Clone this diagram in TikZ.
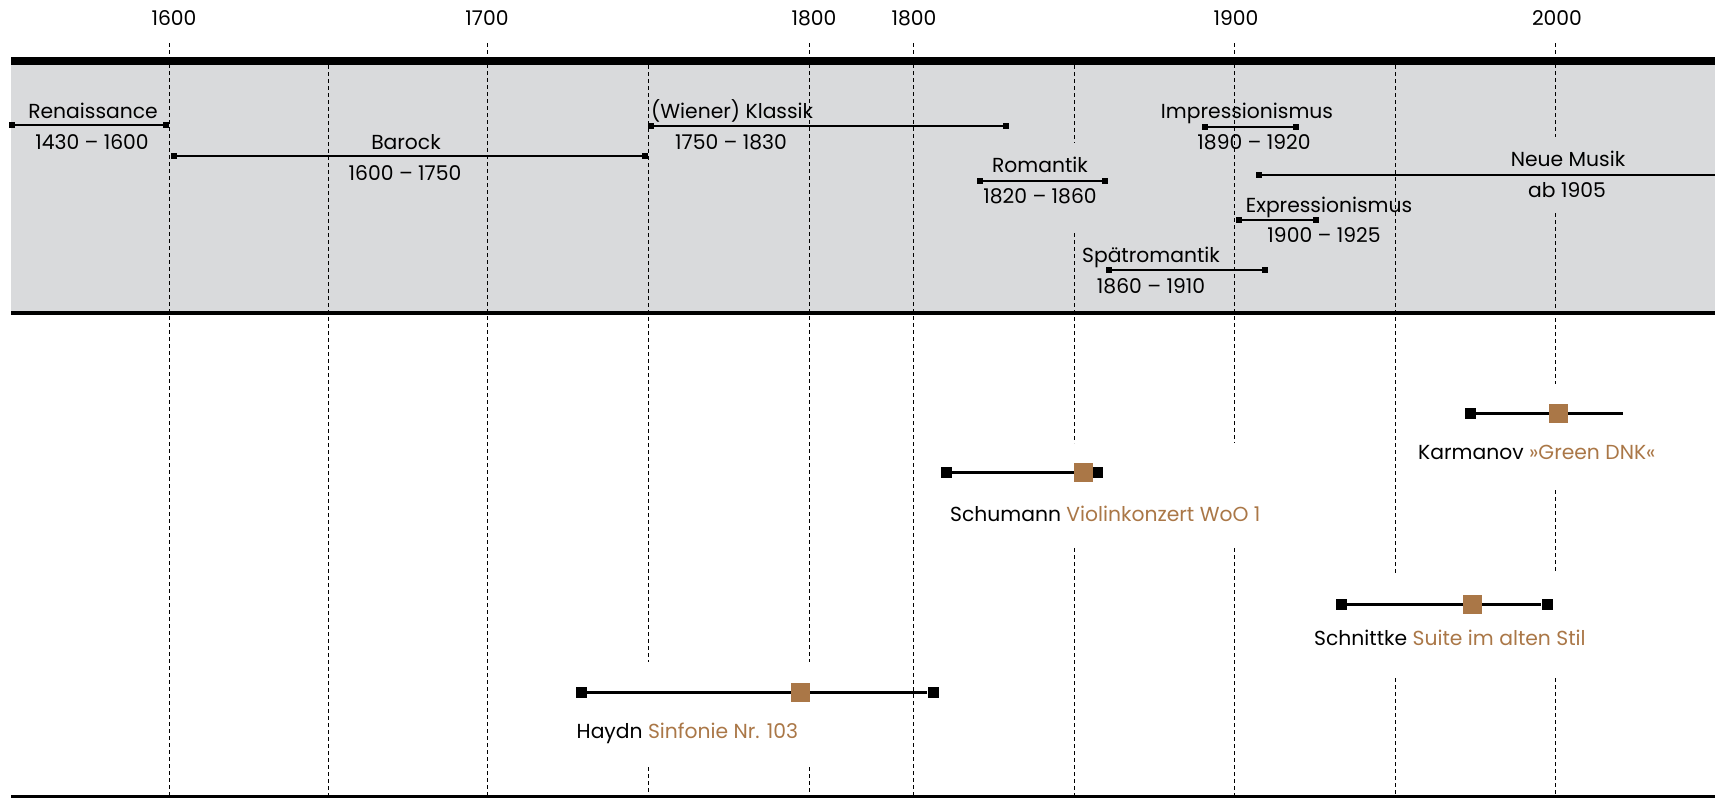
\documentclass[tikz,border=0pt]{standalone}
\usepackage{fontspec}
\setmainfont{Poppins}
\definecolor{workbrown}{HTML}{AA7747}
\definecolor{bandgrey}{HTML}{D9DADC}
\begin{document}
\begin{tikzpicture}[x=1pt,y=-1pt,
  txt/.style={font=\fontsize{20.3}{24}\selectfont, inner sep=0pt, anchor=base},
  gridline/.style={line width=1.2pt, dash pattern=on 4pt off 3pt},
  period/.style={line width=1.5pt},
  pend/.style={rectangle, fill=black, minimum size=6pt, inner sep=0pt},
  wline/.style={line width=3pt},
  wend/.style={rectangle, fill=black, minimum size=11pt, inner sep=0pt},
  wmark/.style={rectangle, fill=workbrown, minimum size=19pt, inner sep=0pt},
]
\useasboundingbox (0,0) rectangle (1715,798);
% grey band
\fill[bandgrey] (11,61) rectangle (1715,313);
% dashed year lines
\foreach \x/\a/\b in {169.5/43/795, 328.5/65/795, 487.5/43/795,
  648.5/65/662, 648.5/767/795, 809.5/43/662, 809.5/767/795,
  913.5/43/795,
  1074.5/65/143, 1074.5/233/443, 1074.5/548/795,
  1234.5/43/443, 1234.5/548/795,
  1395.5/65/573, 1395.5/678/795,
  1555.5/43/137, 1555.5/213/384, 1555.5/490/573, 1555.5/678/795}
  \draw[gridline] (\x,\a) -- (\x,\b);
% bars
\draw[line width=8pt] (11,61) -- (1715,61);
\draw[line width=4pt] (11,313) -- (1715,313);
\draw[line width=3.5pt] (11,796.5) -- (1715,796.5);
% year labels
\node[txt] (y1600) at (174,25) {1600};
\node[txt] (y1700) at (487,25) {1700};
\node[txt] (y1800a) at (814,25) {1800};
\node[txt] (y1800b) at (914,25) {1800};
\node[txt] (y1900) at (1236,25) {1900};
\node[txt] (y2000) at (1557,25) {2000};
% periods
\node[pend] (renA) at (12,125) {};
\node[pend] (renB) at (166,125) {};
\draw[period] (renA) -- (renB);
\node[txt] (ren) at (93,118) {Renaissance};
\node[txt] (renY) at (92,149) {1430 – 1600};

\node[pend] (barA) at (174,156) {};
\node[pend] (barB) at (645,156) {};
\draw[period] (barA) -- (barB);
\node[txt] (bar) at (406,149) {Barock};
\node[txt] (barY) at (405,180) {1600 – 1750};

\node[pend] (klaA) at (651,126) {};
\node[pend] (klaB) at (1006,126) {};
\draw[period] (klaA) -- (klaB);
\node[txt, anchor=base west] (kla) at (651,118) {(Wiener) Klassik};
\node[txt] (klaY) at (731,149) {1750 – 1830};

\node[pend] (romA) at (979.5,181) {};
\node[pend] (romB) at (1105,181) {};
\draw[period] (romA) -- (romB);
\node[txt] (rom) at (1040,172) {Romantik};
\node[txt] (romY) at (1040,203) {1820 – 1860};

\node[pend] (impA) at (1205,127) {};
\node[pend] (impB) at (1296,127) {};
\draw[period] (impA) -- (impB);
\node[txt] (imp) at (1247,118) {Impressionismus};
\node[txt] (impY) at (1254,149) {1890 – 1920};

\node[pend] (neuA) at (1259,175) {};
\coordinate (neuB) at (1715,175);
\draw[period] (neuA) -- (neuB);
\node[txt] (neu) at (1568,166) {Neue Musik};
\node[txt] (neuY) at (1567,197) {ab 1905};

\node[pend] (expA) at (1239,220) {};
\node[pend] (expB) at (1316,220) {};
\draw[period] (expA) -- (expB);
\node[txt] (exp) at (1329,212) {Expressionismus};
\node[txt] (expY) at (1324,242) {1900 – 1925};

\node[pend] (spaA) at (1109,270) {};
\node[pend] (spaB) at (1265,270) {};
\draw[period] (spaA) -- (spaB);
\node[txt] (spa) at (1151,262) {Spätromantik};
\node[txt] (spaY) at (1151,293) {1860 – 1910};

% works
\node[wend] (karA) at (1470,413) {};
\coordinate (karB) at (1622.5,413);
\draw[wline] (karA) -- (karB);
\node[wmark] (karM) at (1558,413) {};
\node[txt, anchor=base west] (kar) at (1418,459) {Karmanov \textcolor{workbrown}{»Green DNK«}};

\node[wend] (schA) at (946,472) {};
\node[wend] (schB) at (1097,472) {};
\draw[wline] (schA) -- (schB);
\node[wmark] (schM) at (1083,472) {};
\node[txt, anchor=base west] (sch) at (950,521.5) {Schumann \textcolor{workbrown}{Violinkonzert WoO 1}};

\node[wend] (sntA) at (1341,604) {};
\node[wend] (sntB) at (1547,604) {};
\draw[wline] (sntA) -- (sntB);
\node[wmark] (sntM) at (1472,604) {};
\node[txt, anchor=base west] (snt) at (1314,645) {Schnittke \textcolor{workbrown}{Suite im alten Stil}};

\node[wend] (hayA) at (581,692) {};
\node[wend] (hayB) at (933,692) {};
\draw[wline] (hayA) -- (hayB);
\node[wmark] (hayM) at (800.5,692) {};
\node[txt, anchor=base west] (hay) at (576.5,738) {Haydn \textcolor{workbrown}{Sinfonie Nr. 103}};
\end{tikzpicture}
\end{document}
